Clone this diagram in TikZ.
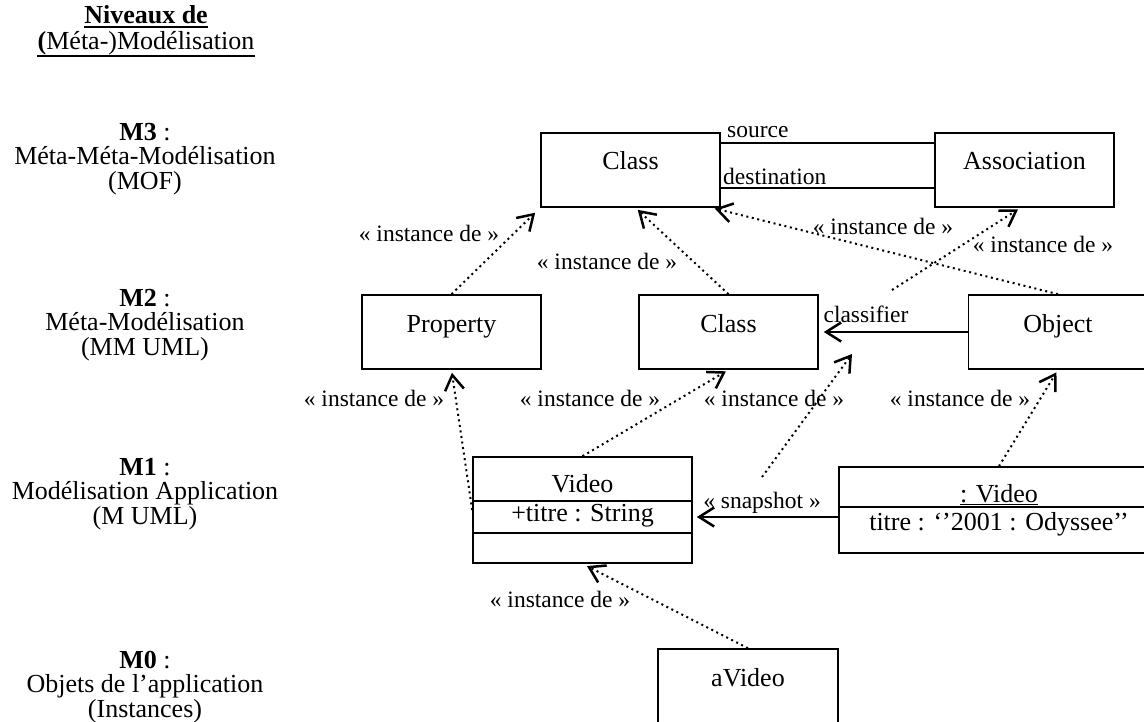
\documentclass[tikz,border=0pt]{standalone}
\usepackage{fontspec}
\setmainfont{Liberation Serif}
\usetikzlibrary{arrows.meta,calc}

\tikzset{
  box/.style={draw, line width=1.6pt, minimum width=179pt, minimum height=74pt,
    inner sep=0pt, font=\fontsize{26}{30}\selectfont, text height=18pt, text depth=18pt},
  txt/.style={inner sep=0pt, font=\fontsize{26}{30}\selectfont},
  lvl/.style={inner sep=0pt, align=center, font=\fontsize{26}{24.5}\selectfont},
  lbl/.style={inner sep=0pt, font=\fontsize{23.5}{26}\selectfont},
  barb/.style={-{Straight Barb[length=15pt,width=19pt,line width=2.5pt]}},
  inst/.style={line width=2pt, dash pattern=on 2pt off 3.6pt, barb},
  link/.style={line width=1.8pt},
  nav/.style={link, barb},
  uline/.style={line width=1.5pt},
}

\begin{document}
\begin{tikzpicture}[x=1pt, y=-1pt]
  % page area, one unit per pixel, y growing downwards
  \fill[white] (0,0) rectangle (1144,722);
  \useasboundingbox (0,0) rectangle (1144,722);

  % ---- title and level captions (left column)
  \node[txt, anchor=base] (title1) at (146,24) {\textbf{Niveaux de}};
  \node[txt, anchor=base] (title2) at (146,50) {\textbf{(}Méta-)Modélisation};
  \draw[uline] ([yshift=-3pt]title1.base west) -- ([yshift=-3pt]title1.base east);
  \draw[uline] ([yshift=-6pt]title2.base west) -- ([yshift=-6pt]title2.base east);

  \node[lvl] (m3) at (145,159) {\textbf{M3} :\\Méta-Méta-Modélisation\\(MOF)};
  \node[lvl] (m2) at (145,325) {\textbf{M2} :\\Méta-Modélisation\\(MM UML)};
  \node[lvl] (m1) at (145,494) {\textbf{M1} :\\Modélisation Application\\(M UML)};
  \node[lvl] (m0) at (145,687) {\textbf{M0} :\\Objets de l’application\\(Instances)};

  % ---- M3 : MOF
  \node[box] (c3) at (630.5,170) {Class};
  \node[box] (assoc) at (1024.5,170) {Association};
  \draw[link] ([yshift=27pt]c3.east) -- ([yshift=27pt]assoc.west);
  \draw[link] ([yshift=-18pt]c3.east) -- ([yshift=-18pt]assoc.west);
  \node[lbl, anchor=base west] (srcl) at (727,138) {source};
  \node[lbl, anchor=base west] (dstl) at (723,185) {destination};

  % ---- M2 : UML metamodel
  \node[box] (prop) at (451.5,332) {Property};
  \node[box] (c2) at (728.5,332) {Class};
  \node[box] (obj) at (1058,332) {Object};
  \draw[nav, shorten >=5pt] (obj.west) -- (c2.east);
  \node[lbl] (clsf) at (866,314) {classifier};

  % ---- M1 : application model
  \node[box, minimum width=219pt, minimum height=106pt] (video) at (582.5,510) {};
  \draw[link] ([yshift=-45pt]video.north west) -- ([yshift=-45pt]video.north east);
  \draw[link] ([yshift=-77pt]video.north west) -- ([yshift=-77pt]video.north east);
  \node[txt, anchor=base] (videoname) at (582.5,492) {Video};
  \node[txt, anchor=base] (videoattr) at (582.5,521) {+titre : String};

  \node[box, minimum width=320pt, minimum height=86pt] (vobj) at (999,510) {};
  \draw[link] ([yshift=-41pt]vobj.north west) -- ([yshift=-41pt]vobj.north east);
  \node[txt, anchor=base] (vobjname) at (999,502) {: Video};
  \draw[uline] ([yshift=-2.5pt]vobjname.base west) -- ([yshift=-2.5pt]vobjname.base east);
  \node[txt, anchor=base] (vobjattr) at (999,530) {titre : ‘’2001 : Odyssee’’};

  \draw[nav, shorten >=4pt] ([yshift=-7pt]vobj.west) -- ([yshift=-7pt]video.east);
  \node[lbl] (snap) at (762,503) {« snapshot »};

  % ---- M0 : instances
  \node[box, minimum width=180pt] (avid) at (748,686) {aVideo};

  % ---- instance-of relations
  \coordinate (clsfpt) at (892,290);
  \coordinate (snappt) at (762,477);
  \coordinate (clsfend) at (852,354);

  \draw[inst, shorten >=7pt] (prop.north) -- (c3.south west);
  \draw[inst, shorten >=3pt] (c2.north) -- ([xshift=5pt]c3.south);
  \draw[inst, shorten >=3pt] (obj.north) -- ([xshift=-9pt]c3.south east);
  \draw[inst, shorten >=3pt] (clsfpt) -- ([xshift=-4pt]assoc.south);
  \draw[inst, shorten >=3pt] (video.west) -- (prop.south);
  \draw[inst, shorten >=3pt] (video.north) -- (c2.south);
  \draw[inst] (snappt) -- (clsfend);
  \draw[inst, shorten >=3pt] (vobj.north) -- (obj.south);
  \draw[inst, shorten >=5pt] (avid.north) -- (video.south);

  \node[lbl] (i1) at (429,233) {« instance de »};
  \node[lbl] (i2) at (607,261) {« instance de »};
  \node[lbl] (i3) at (883,226) {« instance de »};
  \node[lbl] (i4) at (1043,244) {« instance de »};
  \node[lbl] (i5) at (374,398) {« instance de »};
  \node[lbl] (i6) at (590,398) {« instance de »};
  \node[lbl] (i7) at (774,398) {« instance de »};
  \node[lbl] (i8) at (960,398) {« instance de »};
  \node[lbl] (i9) at (560,599) {« instance de »};
\end{tikzpicture}
\end{document}
